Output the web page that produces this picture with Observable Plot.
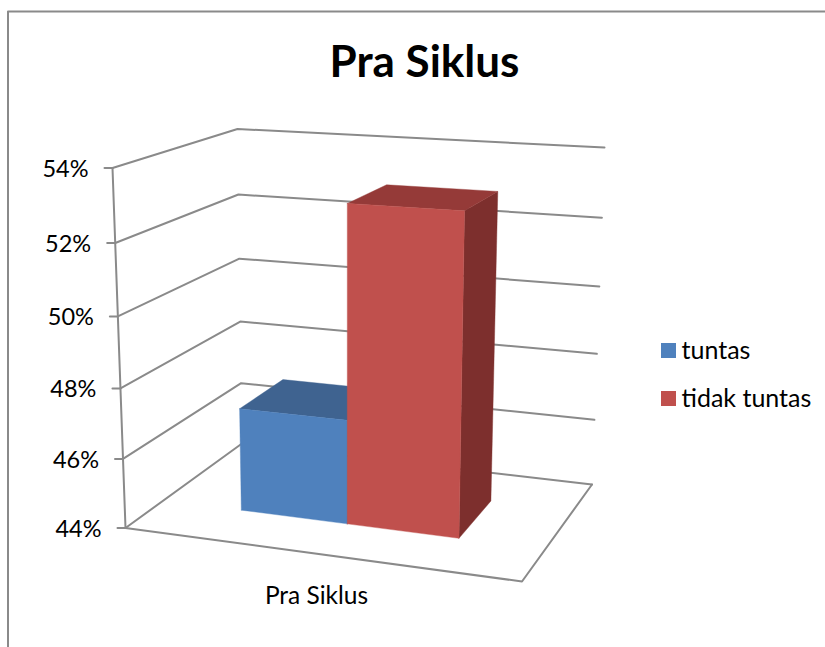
<!DOCTYPE html>
<html>
<head>
<meta charset="utf-8">
<script src="https://cdn.jsdelivr.net/npm/d3@7"></script>
<script src="https://cdn.jsdelivr.net/npm/@observablehq/plot@0.6"></script>
<style>
html,body{margin:0;padding:0;background:#fff;overflow:hidden}
svg{display:block}
</style>
</head>
<body>
<div id="chart"></div>
<script>
// ---- data ----
const chartTitle = "Pra Siklus";
const categories = ["Pra Siklus"];
const seriesNames = ["tuntas", "tidak tuntas"];
const seriesValues = [47, 53];
const axisTicks = [44, 46, 48, 50, 52, 54];
const seriesFront = ["#4f81bd", "#c0504d"];
const seriesTop = ["#3f6390", "#953a38"];
const seriesSide = ["#365578", "#7d2f2d"];

// ---- oblique view of the chart box ----
const W = 825, H = 647;
const floor = {fl: [125, 527.5], fr: [521.5, 581], bl: [241.5, 443], br: [591.5, 484]};
const roof = {fl: [112, 167.5], fr: [531.8, 192], bl: [237, 128.5], br: [604, 147]};
const valueShare = d3.scaleLinear().domain([axisTicks[0], axisTicks[axisTicks.length - 1]]).range([0, 1]);
const rise = v => { const s = valueShare(v); return 0.95 * s / (1 - 0.05 * s); };
const mix = (a, b, t) => a + (b - a) * t;
function plane(c, u, w, i) {
  return mix(mix(c.fl[i], c.fr[i], u), mix(c.bl[i], c.br[i], u), w);
}
function project(u, w, v) {
  const t = rise(v);
  return {x: mix(plane(floor, u, w, 0), plane(roof, u, w, 0), t),
          y: mix(plane(floor, u, w, 1), plane(roof, u, w, 1), t)};
}
const barEdges = [0.203, 0.481, 0.774];
const barDepth = [0.33, 0.727];
const base = axisTicks[0];
const gray = "#8a8a8a";
const gridWidth = 2;

const marks = [];
// outer frame
marks.push(Plot.line([{x: 7.5, y: H}, {x: 7.5, y: 11}, {x: W, y: 11}],
  {x: "x", y: "y", stroke: gray, strokeWidth: 2}));

// grid on the walls
for (const v of axisTicks) {
  marks.push(Plot.line([project(0, 0, v), project(0, 1, v), project(1, 1, v)],
    {x: "x", y: "y", stroke: gray, strokeWidth: gridWidth}));
  const p = project(0, 0, v);
  marks.push(Plot.line([{x: p.x - 8, y: p.y}, p], {x: "x", y: "y", stroke: gray, strokeWidth: gridWidth}));
  marks.push(Plot.text([v], {x: () => p.x - 24, y: () => p.y + 1.5, text: d => d + "%",
    textAnchor: "end", lineAnchor: "middle", fontSize: 23.5, fill: "#000", fontFamily: "Lato"}));
}
// floor and value axis
marks.push(Plot.line([project(0, 0, base), project(1, 0, base), project(1, 1, base)],
  {x: "x", y: "y", stroke: gray, strokeWidth: gridWidth}));
marks.push(Plot.line([project(0, 0, axisTicks[axisTicks.length - 1]), project(0, 0, base)],
  {x: "x", y: "y", stroke: gray, strokeWidth: gridWidth}));

// bars
seriesValues.forEach((v, i) => {
  const u0 = barEdges[i], u1 = barEdges[i + 1], [w0, w1] = barDepth;
  const face = (pts, color) => Plot.line([...pts, pts[0]],
    {x: "x", y: "y", fill: color, stroke: color, strokeWidth: 0.4});
  marks.push(face([project(u1, w0, base), project(u1, w1, base), project(u1, w1, v), project(u1, w0, v)], seriesSide[i]));
  marks.push(face([project(u0, w0, v), project(u0, w1, v), project(u1, w1, v), project(u1, w0, v)], seriesTop[i]));
  marks.push(face([project(u0, w0, base), project(u1, w0, base), project(u1, w0, v), project(u0, w0, v)], seriesFront[i]));
});

// category label
marks.push(Plot.text(categories, {x: () => 316, y: () => 595.5, text: d => d,
  textAnchor: "middle", lineAnchor: "middle", fontSize: 24.5, fill: "#000", fontFamily: "Lato"}));

// title
marks.push(Plot.text([chartTitle], {x: () => 424, y: () => 62, text: d => d,
  textAnchor: "middle", lineAnchor: "middle", fontSize: 44, fontWeight: 700, fill: "#000", fontFamily: "Lato"}));

// legend
seriesNames.forEach((name, i) => {
  const top = 343 + i * 48;
  marks.push(Plot.rect([name], {x1: () => 661, x2: () => 676, y1: () => top, y2: () => top + 15, fill: seriesFront[i]}));
  marks.push(Plot.text([name], {x: () => 681, y: () => top + 7.5, text: d => d,
    textAnchor: "start", lineAnchor: "middle", fontSize: 25, fill: "#000", fontFamily: "Lato"}));
});

const chart = Plot.plot({
  width: W, height: H, margin: 0,
  x: {domain: [0, W], range: [0, W], axis: null},
  y: {domain: [0, H], range: [0, H], axis: null},
  style: {background: "#fff"},
  marks
});
document.getElementById("chart").appendChild(chart);
</script>
</body>
</html>
